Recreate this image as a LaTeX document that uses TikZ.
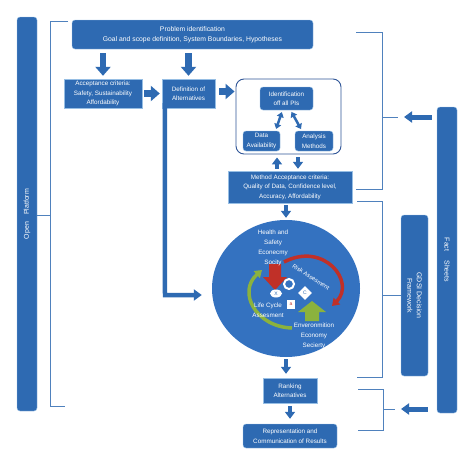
\documentclass[tikz,border=0pt]{standalone}
\usepackage{fontspec}
\setmainfont{Liberation Sans}
\usetikzlibrary{arrows.meta,shapes.geometric}

\definecolor{boxblue}{RGB}{46,106,178}
\definecolor{circleblue}{RGB}{52,114,192}
\definecolor{edgeblue}{RGB}{150,190,228}
\definecolor{lineblue}{RGB}{79,129,189}
\definecolor{frameblue}{RGB}{47,85,151}
\definecolor{riskred}{RGB}{192,48,40}
\definecolor{lcagreen}{RGB}{139,178,62}

\begin{document}
\begin{tikzpicture}[
      x=1pt, y=-1pt,
      box node/.style={draw=edgeblue, fill=boxblue, text=white, align=center, inner sep=0pt, font=\fontsize{6.3}{9.5}\selectfont},
      round node/.style={box node, rounded corners=3pt},
      inner text/.style={text=white, align=center, inner sep=0pt, font=\fontsize{6.3}{10}\selectfont},
      fat arrow/.style={draw=boxblue, line width=6.5pt, -{Triangle[width=15pt,length=9pt]}},
      side arrow/.style={draw=boxblue, line width=5pt, -{Triangle[width=11pt,length=8pt]}},
      small arrow/.style={draw=boxblue, line width=4pt, -{Triangle[width=10pt,length=7pt]}},
      twin arrow/.style={draw=boxblue, line width=2.5pt, {Triangle[width=7pt,length=5pt]}-{Triangle[width=7pt,length=5pt]}},
      bracket/.style={draw=lineblue, line width=0.9pt}
    ]
    \useasboundingbox (0,0) rectangle (474,466);

    % Side bars
    \node (open) [round node, rotate=90, minimum width=394pt, minimum height=20pt, font=\fontsize{7}{9}\selectfont] at (27,214) {Open\quad Platform};
    \node (facts) [round node, rotate=-90, minimum width=306pt, minimum height=20pt, font=\fontsize{7}{9}\selectfont] at (447,260) {Fact\quad\ Sheets};
    \node (gdsi) [round node, rotate=-90, minimum width=161pt, minimum height=27pt, font=\fontsize{7}{9.5}\selectfont] at (414.5,295.5) {GDSI Decision\\Framework};

    % Top of the flow
    \node (problem) [round node, minimum width=241pt, minimum height=29pt, font=\fontsize{6.8}{10.5}\selectfont] at (192.5,34.5) {Problem identification\\Goal and scope definition, System Boundaries, Hypotheses};
    \node (accept) [box node, minimum width=78pt, minimum height=29pt] at (103,93.5) {Acceptance criteria:\\Safety, Sustainability\\Affordability};
    \node (define) [box node, minimum width=53pt, minimum height=29pt] at (188.5,93.5) {Definition of\\Alternatives};

    % Indicator block
    \node (frame) [draw=frameblue, line width=0.9pt, fill=white, rounded corners=8pt, minimum width=105pt, minimum height=75pt] at (288.5,116.5) {};
    \node (ident) [round node, minimum width=53pt, minimum height=23pt] at (286.5,98.5) {Identification\\off all PIs};
    \node (data) [round node, minimum width=37pt, minimum height=20pt] at (261.5,141) {Data\\Availability};
    \node (methods) [round node, minimum width=38pt, minimum height=20pt] at (314,141) {Analysis\\Methods};
    \node (method) [box node, minimum width=124pt, minimum height=32pt] at (290,187) {Method Acceptance criteria:\\Quality of Data, Confidence level,\\Accuracy, Affordability};

    % Assessment circle
    \node (circle) [ellipse, fill=circleblue, minimum width=148pt, minimum height=137pt, inner sep=0pt] at (286,288.5) {};
    \draw[riskred, line width=3.5pt, -{Triangle[width=9pt,length=7pt]}] (284,262) .. controls (324,241) and (356,282) .. (332,306);
    \draw[lcagreen, line width=3.5pt, -{Triangle[width=9pt,length=7pt]}] (292,328) .. controls (256,327) and (237,292) .. (262,270);
    \fill[riskred] (269,264) -- (281,264) -- (281,277) -- (287,277) -- (275,290) -- (263,277) -- (269,277) -- cycle;
    \fill[lcagreen] (305,321) -- (319,321) -- (319,312) -- (326,312) -- (312,301) -- (298,312) -- (305,312) -- cycle;
    \node (ring) [circle, draw=white, line width=2pt, minimum size=10pt, inner sep=0pt] at (289,284) {};
    \node (xmark) [ellipse, fill=white, minimum width=12pt, minimum height=8pt, inner sep=0pt, text=boxblue, font=\fontsize{5}{5}\selectfont] at (276,293.5) {X};
    \node (cmark) [diamond, fill=white, minimum size=14pt, inner sep=0pt, text=boxblue, font=\fontsize{5}{5}\selectfont] at (305,293) {C};
    \node (amark) [fill=white, minimum width=8pt, minimum height=9pt, inner sep=0pt, text=riskred, font=\fontsize{5}{5}\selectfont] at (291,304.5) {a};
    \node (health) [inner text] at (273,247.5) {Health and\\Safety\\Econecmy\\Socity};
    \node (risk) [inner text, rotate=-33, font=\fontsize{6}{8}\selectfont] at (311,277) {Risk Assesment};
    \node (lca) [inner text] at (268,310.5) {Life Cycle\\Assesment};
    \node (env) [inner text] at (314,336) {Enveronmition\\Economy\\Secierty};

    % Bottom of the flow
    \node (rank) [box node, minimum width=54pt, minimum height=25pt] at (290,390.5) {Ranking\\Alternatives};
    \node (result) [round node, minimum width=94pt, minimum height=24pt] at (290,436) {Representation and\\Communication of Results};

    % Flow arrows
    \draw[fat arrow, shorten <=4pt, shorten >=3pt] (problem.south -| accept.north) -- (accept.north);
    \draw[fat arrow, shorten <=4pt, shorten >=3pt] (problem.south -| define.north) -- (define.north);
    \draw[fat arrow, shorten <=2pt, shorten >=2pt] (accept.east) -- (define.west);
    \draw[fat arrow, shorten <=4pt, shorten >=1pt] ([yshift=2pt]define.east) -- ([yshift=2pt]define.east -| frame.west);
    \draw[twin arrow, shorten <=2pt, shorten >=2pt] ([xshift=-4pt]ident.south) -- ([xshift=14pt]data.north);
    \draw[twin arrow, shorten <=2pt, shorten >=2pt] ([xshift=4pt]ident.south) -- ([xshift=-12pt]methods.north);
    \draw[small arrow, shorten <=2pt, shorten >=3pt] ([xshift=-13pt]method.north) -- ([xshift=-13pt]method.north |- frame.south);
    \draw[small arrow, shorten <=3pt, shorten >=2pt] ([xshift=8pt]method.north |- frame.south) -- ([xshift=8pt]method.north);
    \draw[small arrow, shorten <=2pt, shorten >=2pt] (method.south -| circle.north) -- (circle.north);
    \coordinate (turn) at (165,295);
    \draw[draw=boxblue, line width=4.5pt, -{Triangle[width=11pt,length=8pt]}, shorten >=10pt] ([xshift=3pt,yshift=5pt]define.south west) -- (turn) -- (circle.west |- turn);
    \draw[small arrow, shorten <=2pt, shorten >=4pt] (circle.south) -- (circle.south |- rank.north);
    \draw[small arrow, shorten <=3pt, shorten >=5pt] (rank.south) -- (result.north);

    % Brackets
    \draw[bracket] (68,21) -- (50,21) -- (50,406) -- (65,406);
    \draw[bracket] (open.south |- 0,215) -- (50,215);
    \draw[bracket] (356,32) -- (382,32) -- (382,189) -- (356,189);
    \draw[bracket] (357,201) -- (382,201) -- (382,377) -- (357,377);
    \draw[bracket] (382,295) -- (gdsi.south |- 0,295);
    \draw[bracket] (358,389) -- (383,389) -- (383,430) -- (358,430);
    \coordinate (tick1) at (398,117);
    \coordinate (tick3) at (395,409);
    \draw[bracket] (382,117) -- (tick1);
    \draw[bracket] (383,409) -- (tick3);
    \draw[side arrow, shorten <=5pt, shorten >=6pt] (facts.south |- tick1) -- (tick1);
    \draw[side arrow, shorten <=9pt, shorten >=6pt] (facts.south |- tick3) -- (tick3);
  \end{tikzpicture}
\end{document}
